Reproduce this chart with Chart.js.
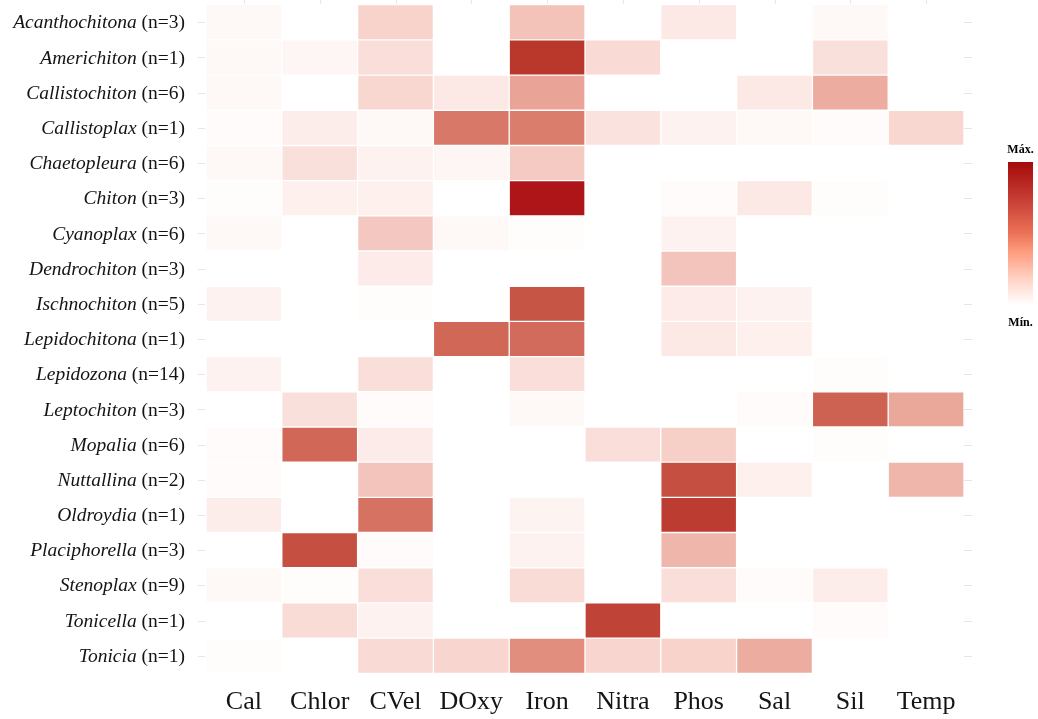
<!DOCTYPE html>
<html>
<head>
<meta charset="utf-8">
<script src="https://cdn.jsdelivr.net/npm/chart.js@4.4.0/dist/chart.umd.min.js"></script>
<style>
  html, body { margin: 0; padding: 0; background: #fff; }
  canvas { display: block; }
</style>
</head>
<body>
<canvas id="heat" width="1038" height="719"></canvas>
<script>
// Genera (rows) with their sample sizes
const genera = ['Acanthochitona', 'Americhiton', 'Callistochiton', 'Callistoplax', 'Chaetopleura',
  'Chiton', 'Cyanoplax', 'Dendrochiton', 'Ischnochiton', 'Lepidochitona', 'Lepidozona',
  'Leptochiton', 'Mopalia', 'Nuttallina', 'Oldroydia', 'Placiphorella', 'Stenoplax',
  'Tonicella', 'Tonicia'];
const sampleSizes = [3, 1, 6, 1, 6, 3, 6, 3, 5, 1, 14, 3, 6, 2, 1, 3, 9, 1, 1];

// Environmental variables (columns)
const variables = ['Cal', 'Chlor', 'CVel', 'DOxy', 'Iron', 'Nitra', 'Phos', 'Sal', 'Sil', 'Temp'];

// Relative importance of each variable per genus (0 = Mín., 1 = Máx.)
const cal   = [0.03, 0.03, 0.03, 0.02, 0.03, 0.01, 0.03, 0.00, 0.06, 0.00, 0.06, 0.00, 0.02, 0.02, 0.08, 0.00, 0.03, 0.00, 0.01];
const chlor = [0.00, 0.04, 0.00, 0.08, 0.14, 0.07, 0.00, 0.00, 0.00, 0.00, 0.00, 0.14, 0.70, 0.00, 0.00, 0.80, 0.01, 0.16, 0.00];
const cvel  = [0.20, 0.15, 0.18, 0.03, 0.06, 0.07, 0.25, 0.09, 0.01, 0.00, 0.15, 0.02, 0.09, 0.27, 0.65, 0.02, 0.15, 0.06, 0.17];
const doxy  = [0.00, 0.00, 0.10, 0.62, 0.04, 0.00, 0.03, 0.00, 0.00, 0.70, 0.00, 0.00, 0.00, 0.00, 0.00, 0.00, 0.00, 0.00, 0.19];
const iron  = [0.28, 0.90, 0.42, 0.60, 0.24, 1.00, 0.01, 0.00, 0.78, 0.68, 0.15, 0.03, 0.00, 0.00, 0.05, 0.06, 0.16, 0.00, 0.52];
const nitra = [0.00, 0.17, 0.00, 0.13, 0.00, 0.00, 0.00, 0.00, 0.00, 0.00, 0.00, 0.00, 0.15, 0.00, 0.00, 0.00, 0.00, 0.85, 0.19];
const phos  = [0.10, 0.00, 0.00, 0.06, 0.00, 0.02, 0.06, 0.27, 0.09, 0.10, 0.00, 0.00, 0.22, 0.80, 0.88, 0.33, 0.15, 0.00, 0.20];
const sal   = [0.00, 0.00, 0.10, 0.03, 0.00, 0.10, 0.00, 0.00, 0.06, 0.07, 0.00, 0.02, 0.00, 0.07, 0.00, 0.00, 0.02, 0.00, 0.38];
const sil   = [0.03, 0.14, 0.38, 0.02, 0.00, 0.01, 0.00, 0.00, 0.00, 0.00, 0.01, 0.72, 0.01, 0.00, 0.00, 0.00, 0.08, 0.02, 0.00];
const temp  = [0.00, 0.00, 0.00, 0.18, 0.00, 0.00, 0.00, 0.00, 0.00, 0.00, 0.00, 0.40, 0.00, 0.33, 0.00, 0.00, 0.00, 0.00, 0.00];

const columns = [cal, chlor, cvel, doxy, iron, nitra, phos, sal, sil, temp];

// ---- colour ramp: white -> dark red, interpolated in CIE Lab ----
const LOW = [255, 255, 255];
const HIGH = [173, 21, 24];

function toLin(c) { c /= 255; return c <= 0.04045 ? c / 12.92 : Math.pow((c + 0.055) / 1.055, 2.4); }
function toSrgb(c) {
  const v = c <= 0.0031308 ? 12.92 * c : 1.055 * Math.pow(c, 1 / 2.4) - 0.055;
  return Math.round(Math.max(0, Math.min(1, v)) * 255);
}
function rgbToLab(rgb) {
  const [r, g, b] = rgb.map(toLin);
  const X = (0.4124 * r + 0.3576 * g + 0.1805 * b) / 0.95047;
  const Y = (0.2126 * r + 0.7152 * g + 0.0722 * b);
  const Z = (0.0193 * r + 0.1192 * g + 0.9505 * b) / 1.08883;
  const f = t => t > 0.008856 ? Math.cbrt(t) : 7.787 * t + 16 / 116;
  const fx = f(X), fy = f(Y), fz = f(Z);
  return [116 * fy - 16, 500 * (fx - fy), 200 * (fy - fz)];
}
function labToRgb(lab) {
  const fy = (lab[0] + 16) / 116, fx = fy + lab[1] / 500, fz = fy - lab[2] / 200;
  const inv = t => (t * t * t > 0.008856 ? t * t * t : (t - 16 / 116) / 7.787);
  const X = inv(fx) * 0.95047, Y = inv(fy), Z = inv(fz) * 1.08883;
  const r = 3.2406 * X - 1.5372 * Y - 0.4986 * Z;
  const g = -0.9689 * X + 1.8758 * Y + 0.0415 * Z;
  const b = 0.0557 * X - 0.2040 * Y + 1.0570 * Z;
  return [toSrgb(r), toSrgb(g), toSrgb(b)];
}
const LOW_LAB = rgbToLab(LOW), HIGH_LAB = rgbToLab(HIGH);
function ramp(t) {
  const lab = LOW_LAB.map((v, i) => v + (HIGH_LAB[i] - v) * t);
  const [r, g, b] = labToRgb(lab);
  return `rgb(${r},${g},${b})`;
}

const SERIF = '"Liberation Serif", "Times New Roman", serif';

// One floating-bar dataset per variable column
const datasets = variables.map((name, j) => ({
  label: name,
  data: genera.map(() => [j, j + 1]),
  backgroundColor: columns[j].map(ramp),
  borderColor: 'rgba(255,255,255,0.22)',
  borderWidth: 1,
  borderSkipped: false,
  grouped: false,
  barPercentage: 1,
  categoryPercentage: 1
}));

// Axis decorations, mixed-style genus labels and the colour key
const decorations = {
  id: 'decorations',
  afterDraw(chart) {
    const { ctx, chartArea: area, scales: { x, y } } = chart;
    ctx.save();

    // tick marks on the left and right of the panel, and along the top
    ctx.strokeStyle = '#e6e6e6';
    ctx.lineWidth = 1.2;
    genera.forEach((g, i) => {
      const py = Math.round(y.getPixelForValue(i)) + 0.5;
      ctx.beginPath();
      ctx.moveTo(area.left - 8, py); ctx.lineTo(area.left - 1, py);
      ctx.moveTo(area.right, py); ctx.lineTo(area.right + 8, py);
      ctx.stroke();
    });
    variables.forEach((v, j) => {
      const px = Math.round(x.getPixelForValue(j + 0.5)) + 0.5;
      ctx.beginPath();
      ctx.moveTo(px, 0); ctx.lineTo(px, area.top - 1);
      ctx.stroke();
    });

    // genus labels: italic name followed by the sample size
    ctx.fillStyle = '#141414';
    ctx.textBaseline = 'middle';
    ctx.textAlign = 'left';
    const italic = 'italic 19.5px ' + SERIF;
    const roman = '19.5px ' + SERIF;
    const rightEdge = area.left - 21;
    genera.forEach((g, i) => {
      const py = y.getPixelForValue(i) + 1;
      const suffix = ' (n=' + sampleSizes[i] + ')';
      ctx.font = roman;
      const wS = ctx.measureText(suffix).width;
      ctx.font = italic;
      const wG = ctx.measureText(g).width;
      const start = rightEdge - wS - wG;
      ctx.fillText(g, start, py);
      ctx.font = roman;
      ctx.fillText(suffix, start + wG, py);
    });

    // colour key
    const kx = area.right + 44, kw = 25, ktop = 162, kbot = 305;
    const grad = ctx.createLinearGradient(0, ktop, 0, kbot);
    grad.addColorStop(0, '#a50b0b');
    grad.addColorStop(0.25, '#c53b33');
    grad.addColorStop(0.5, '#ec7257');
    grad.addColorStop(0.62, '#fd9a7c');
    grad.addColorStop(0.82, '#ffd3c5');
    grad.addColorStop(1, '#ffffff');
    ctx.fillStyle = grad;
    ctx.fillRect(kx, ktop, kw, kbot - ktop);
    ctx.fillStyle = '#000';
    ctx.font = 'bold 12px ' + SERIF;
    ctx.textAlign = 'center';
    ctx.fillText('Máx.', kx + kw / 2, 150);
    ctx.fillText('Mín.', kx + kw / 2, 323);

    ctx.restore();
  }
};

new Chart(document.getElementById('heat'), {
  type: 'bar',
  data: { labels: genera, datasets },
  options: {
    indexAxis: 'y',
    responsive: false,
    animation: false,
    devicePixelRatio: 1,
    layout: { padding: { top: 4.7, right: 74, bottom: 0, left: 0 } },
    plugins: { legend: { display: false }, tooltip: { enabled: false } },
    scales: {
      x: {
        type: 'linear',
        min: 0,
        max: variables.length,
        grid: { display: false, drawTicks: false },
        border: { display: false },
        afterBuildTicks: s => { s.ticks = variables.map((v, j) => ({ value: j + 0.5 })); },
        afterFit: s => { s.height = 45.7; },
        ticks: {
          autoSkip: false,
          maxRotation: 0,
          padding: 13,
          color: '#141414',
          font: { family: SERIF, size: 26 },
          callback: (val, idx) => variables[idx]
        }
      },
      y: {
        type: 'category',
        grid: { display: false, drawTicks: false },
        border: { display: false },
        ticks: { display: false },
        afterFit: s => { s.width = 206; }
      }
    }
  },
  plugins: [decorations]
});
</script>
</body>
</html>
